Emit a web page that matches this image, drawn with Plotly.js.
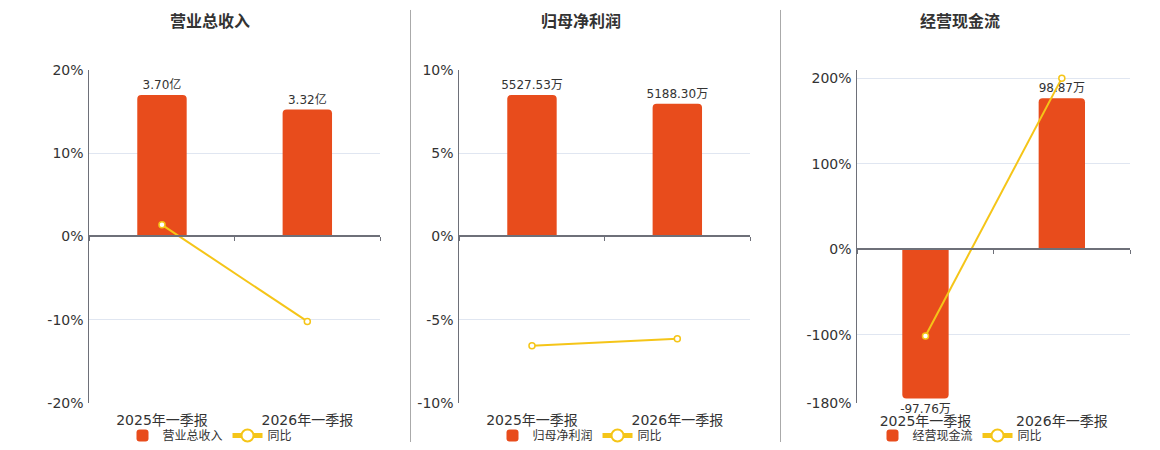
<!DOCTYPE html>
<html>
<head>
<meta charset="utf-8">
<script src="https://cdn.plot.ly/plotly-3.0.1.min.js"></script>
<style>
  html, body { margin: 0; padding: 0; background: #fff; }
  #chart { width: 1160px; height: 450px; }
</style>
</head>
<body>
<div id="chart"></div>
<script>
// data
var periods = ["2025年一季报", "2026年一季报"];

var revenue = [3.70, 3.32];            // 亿
var revenueLabels = ["3.70亿", "3.32亿"];
var revenueYoy = [1.4, -10.2];         // %

var netProfit = [5527.53, 5188.30];    // 万
var netProfitLabels = ["5527.53万", "5188.30万"];
var netProfitYoy = [-6.56, -6.14];

var cashFlow = [-97.76, 98.87];        // 万
var cashFlowLabels = ["-97.76万", "98.87万"];
var cashFlowYoy = [-101.5, 200.3];

var titles = ["营业总收入", "归母净利润", "经营现金流"];

var barColor = "#e84c1c";
var lineColor = "#f5c518";
var axisColor = "#6e7079";
var gridColor = "#e0e6f1";
var font = "DejaVu Sans, Noto Sans CJK SC, sans-serif";

var W = 1160, H = 450;
var yDom = [1 - 404 / H, 1 - 70 / H];

function barTrace(vals, labels, name, xa, ya, lg) {
    return {
        type: "bar", x: periods, y: vals, name: name,
        xaxis: xa, yaxis: ya, legend: lg,
        width: 0.34,
        text: labels, textposition: "outside", cliponaxis: false,
        constraintext: "none",
        textfont: {size: 12, color: "#333"},
        marker: {color: barColor, cornerradius: 4},
        hoverinfo: "skip"
    };
}

function lineTrace(vals, xa, ya, lg) {
    return {
        type: "scatter", mode: "lines+markers", x: periods, y: vals, name: "同比",
        xaxis: xa, yaxis: ya, legend: lg, cliponaxis: false,
        line: {color: lineColor, width: 2},
        marker: {size: 6, color: "#fff", line: {color: lineColor, width: 1.5}},
        hoverinfo: "skip"
    };
}

function catAxis(x0, x1, zeroPos, standoff) {
    return {
        domain: [x0 / W, x1 / W], anchor: "free", position: zeroPos,
        type: "category", showline: true, linecolor: axisColor, linewidth: 2,
        ticks: "outside", ticklen: 4, tickcolor: axisColor, tickson: "boundaries",
        ticklabelstandoff: standoff, showgrid: false, zeroline: false,
        tickfont: {size: 14, color: "#333"}, fixedrange: true
    };
}

function barAxis(range) {
    return {domain: yDom, range: range, visible: false, fixedrange: true};
}

function pctAxis(over, xa, range, tickvals, ticktext) {
    return {
        domain: yDom, overlaying: over, anchor: xa, side: "left",
        range: range, tickvals: tickvals, ticktext: ticktext,
        showline: true, linecolor: axisColor, linewidth: 1,
        showgrid: true, gridcolor: gridColor, zeroline: false,
        ticks: "", ticklabelstandoff: 2,
        tickfont: {size: 14, color: "#333"}, fixedrange: true
    };
}

function zeroAt(range) {
    return yDom[0] + (0 - range[0]) / (range[1] - range[0]) * (yDom[1] - yDom[0]);
}

var pct1 = [-20, 20], pct2 = [-10, 10], pct3 = [-180, 210];

var data = [
    barTrace(revenue, revenueLabels, titles[0], "x", "y", "legend"),
    lineTrace(revenueYoy, "x", "y2", "legend"),
    barTrace(netProfit, netProfitLabels, titles[1], "x2", "y3", "legend2"),
    lineTrace(netProfitYoy, "x2", "y4", "legend2"),
    barTrace(cashFlow, cashFlowLabels, titles[2], "x3", "y5", "legend3"),
    lineTrace(cashFlowYoy, "x3", "y6", "legend3")
];

function legendAt(cx) {
    return {
        orientation: "h", x: cx / W, xanchor: "center", y: 1 - 436 / H, yanchor: "middle",
        font: {size: 12, color: "#333"}, itemsizing: "constant", bgcolor: "rgba(0,0,0,0)"
    };
}

function titleAt(cx, text) {
    return {
        text: "<b>" + text + "</b>", xref: "paper", yref: "paper",
        x: cx / W, y: 1 - 22 / H, xanchor: "center", yanchor: "middle",
        showarrow: false, font: {size: 16, color: "#333"}
    };
}

function divider(px) {
    return {
        type: "line", xref: "paper", yref: "paper",
        x0: px / W, x1: px / W, y0: 1 - 443 / H, y1: 1 - 10 / H,
        line: {color: "#aaa", width: 1}
    };
}

var layout = {
    width: W, height: H,
    margin: {l: 0, r: 0, t: 0, b: 0},
    paper_bgcolor: "#fff", plot_bgcolor: "rgba(0,0,0,0)",
    font: {family: font, color: "#333"},
    hovermode: false,
    xaxis: catAxis(89.3, 380, zeroAt(pct1), 171),
    xaxis2: catAxis(459.3, 750, zeroAt(pct2), 171),
    xaxis3: catAxis(857.3, 1130, zeroAt(pct3), 159),
    yaxis: barAxis([-4.36, 4.36]),
    yaxis2: pctAxis("y", "x", pct1, [-20, -10, 0, 10, 20], ["-20%", "-10%", "0%", "10%", "20%"]),
    yaxis3: barAxis([-6514, 6514]),
    yaxis4: pctAxis("y3", "x2", pct2, [-10, -5, 0, 5, 10], ["-10%", "-5%", "0%", "5%", "10%"]),
    yaxis5: barAxis([-100.75, 117.55]),
    yaxis6: pctAxis("y5", "x3", pct3, [-180, -100, 0, 100, 200, 210], ["-180%", "-100%", "0%", "100%", "200%", ""]),
    legend: legendAt(210),
    legend2: legendAt(580),
    legend3: legendAt(960),
    annotations: [titleAt(210, titles[0]), titleAt(581, titles[1]), titleAt(960, titles[2])],
    shapes: [divider(410.5), divider(780.5)]
};

Plotly.newPlot("chart", data, layout, {displayModeBar: false, staticPlot: true});
</script>
</body>
</html>
